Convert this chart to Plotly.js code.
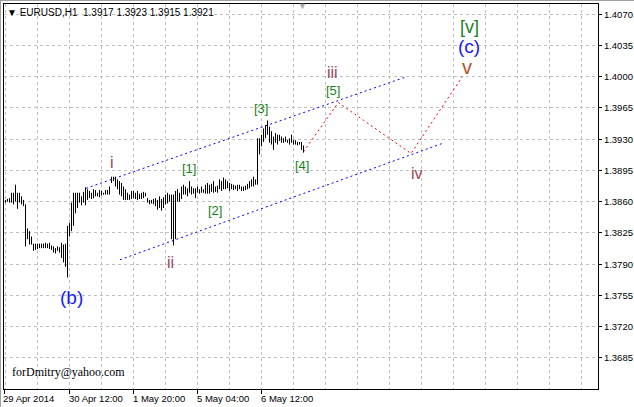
<!DOCTYPE html>
<html><head><meta charset="utf-8">
<script src="https://cdn.plot.ly/plotly-3.0.1.min.js"></script>
<style>
html,body{margin:0;padding:0;background:#fff;overflow:hidden}
#chart{width:634px;height:407px}
#frame{position:absolute;left:0;top:0;width:634px;height:407px;box-sizing:border-box;border-top:1px solid #a0a0a0;border-left:1px solid #a0a0a0;pointer-events:none}
</style>
</head><body><div id="chart"></div><div id="frame"></div>
<script>
// bar index: 0 = 30 Apr 2014 12:00 (H1 bars, weekend skipped)
const firstBar = -32;
const highs = [
1.3862,1.3863,1.3864,1.3870,1.3870,1.3879,1.3870,1.3870,1.3866,1.3862,1.3857,1.3830,1.3827,1.3821,1.3813,1.3813,
1.3813,1.3813,1.3813,1.3813,1.3814,1.3813,1.3814,1.3811,1.3810,1.3808,1.3810,1.3809,1.3814,1.3812,1.3813,1.3833,
1.3836,1.3859,1.3870,1.3870,1.3870,1.3870,1.3866,1.3871,1.3876,1.3874,1.3872,1.3870,1.3874,1.3873,1.3870,1.3873,
1.3872,1.3870,1.3873,1.3873,
1.3877,1.3888,1.3888,1.3888,1.3885,1.3883,1.3881,1.3877,1.3874,1.3870,1.3868,1.3872,1.3872,1.3870,1.3872,1.3869,
1.3870,1.3871,1.3870,1.3864,1.3862,1.3862,1.3863,1.3864,1.3862,1.3866,1.3863,1.3865,1.3868,1.3870,1.3868,1.3868,
1.3868,1.3872,1.3874,1.3870,1.3877,1.3879,1.3877,1.3875,1.3883,1.3877,1.3875,1.3875,1.3877,1.3874,1.3877,1.3874,
1.3879,1.3881,
1.3879,1.3880,1.3883,1.3877,1.3878,1.3885,1.3883,1.3887,1.3885,1.3883,1.3881,1.3880,1.3879,1.3878,1.3879,1.3879,
1.3877,1.3877,1.3878,1.3880,1.3883,1.3885,1.3888,1.3885,1.3931,1.3931,1.3935,1.3942,1.3946,1.3951,1.3944,1.3939,
1.3933,1.3937,1.3935,1.3935,1.3933,1.3931,1.3933,1.3929,1.3931,1.3935,1.3929,1.3929,1.3927,1.3927,1.3927,1.3923
];
const lows = [
1.3859,1.3860,1.3859,1.3859,1.3857,1.3860,1.3852,1.3859,1.3857,1.3855,1.3810,1.3818,1.3812,1.3812,1.3805,1.3806,
1.3807,1.3808,1.3808,1.3808,1.3808,1.3808,1.3807,1.3806,1.3803,1.3802,1.3805,1.3803,1.3797,1.3792,1.3787,1.3775,
1.3821,1.3827,1.3833,1.3847,1.3853,1.3859,1.3856,1.3859,1.3856,1.3862,1.3864,1.3863,1.3864,1.3866,1.3866,1.3865,
1.3867,1.3868,1.3868,1.3868,
1.3868,1.3881,1.3883,1.3877,1.3874,1.3868,1.3866,1.3862,1.3862,1.3862,1.3862,1.3863,1.3864,1.3863,1.3862,1.3863,
1.3863,1.3864,1.3866,1.3859,1.3857,1.3858,1.3857,1.3855,1.3851,1.3853,1.3850,1.3853,1.3857,1.3858,1.3860,1.3818,
1.3811,1.3818,1.3860,1.3860,1.3863,1.3868,1.3868,1.3866,1.3870,1.3868,1.3869,1.3864,1.3870,1.3869,1.3870,1.3870,
1.3869,1.3869,
1.3869,1.3871,1.3870,1.3871,1.3870,1.3874,1.3872,1.3874,1.3874,1.3875,1.3872,1.3874,1.3873,1.3874,1.3872,1.3874,
1.3872,1.3872,1.3873,1.3874,1.3875,1.3877,1.3877,1.3879,1.3879,1.3913,1.3922,1.3927,1.3931,1.3935,1.3926,1.3924,
1.3918,1.3926,1.3924,1.3928,1.3926,1.3926,1.3927,1.3926,1.3924,1.3926,1.3924,1.3924,1.3923,1.3924,1.3918,1.3915
];
const timeTickBars = [-32.75, 0, 32, 64, 96];
const timeTickLabels = ['29 Apr 2014', '30 Apr 12:00', '1 May 20:00', '5 May 04:00', '6 May 12:00'];
const priceTicks = [1.3685,1.3720,1.3755,1.3790,1.3825,1.3860,1.3895,1.3930,1.3965,1.4000,1.4035,1.4070];
const headerSymbol = 'EURUSD,H1';
const headerOHLC = [1.3917, 1.3923, 1.3915, 1.3921];

const upperChannelBar = [8.25, 168.6];
const upperChannelPrice = [1.3875, 1.4000];
const lowerChannelBar = [25.25, 186.1];
const lowerChannelPrice = [1.3795, 1.3925];
const wavePathBar = [117, 134.4, 170.75, 196.4];
const wavePathPrice = [1.3916, 1.3971, 1.3914, 1.4000];

const labelText  = ['i','ii','iii','iv','v','[v]','(c)','(b)','[1]','[2]','[3]','[4]','[5]'];
const labelBar   = [21.25, 50.25, 131.4, 173.6, 198.6, 199.9, 199.9, 0.75, 59.9, 72.75, 95.9, 116.1, 131.9];
const labelPrice = [1.39037,1.37917,1.40045,1.38918,1.40112,1.40560,1.40336,1.37527,1.38974,1.38496,1.39646,1.39011,1.39851];
const labelKind  = ['minor','minor','minor','minorB','minorV','major','blue','blue','sub','sub','sub','sub','sub'];

const kindStyle = {
  minor:  {size:16, color:'#9e4466'},
  minorB: {size:16, color:'#9a4a52'},
  minorV: {size:20, color:'#b8502a'},
  major:  {size:18, color:'#1a801a'},
  blue:   {size:19, color:'#1a1aff'},
  sub:    {size:13, color:'#1a801a'}
};

const bx = [], by = [];
highs.forEach((h, i) => { const k = firstBar + i; bx.push(k, k, null); by.push(lows[i], h, null); });

const traces = [
  {x: upperChannelBar, y: upperChannelPrice, mode:'lines', line:{color:'#0000ff', width:1, dash:'2px,3px'}, hoverinfo:'skip'},
  {x: lowerChannelBar, y: lowerChannelPrice, mode:'lines', line:{color:'#0000ff', width:1, dash:'2px,3px'}, hoverinfo:'skip'},
  {x: wavePathBar, y: wavePathPrice, mode:'lines', line:{color:'#ff0000', width:1, dash:'2px,3px'}, hoverinfo:'skip'},
  {x: bx, y: by, mode:'lines', line:{color:'#000', width:1}, connectgaps:false, hoverinfo:'skip'}
];

const ann = [];
labelText.forEach((t, i) => {
  const st = kindStyle[labelKind[i]];
  ann.push({x: labelBar[i], y: labelPrice[i], xref:'x', yref:'y', text: t, showarrow:false,
    xanchor:'center', yanchor:'middle', font:{family:'Liberation Sans, Arial, sans-serif', size: st.size, color: st.color}});
});
timeTickBars.forEach((k, i) => {
  ann.push({x: k, y: -0.0234, xref:'x', yref:'paper', text: timeTickLabels[i], showarrow:false,
    xanchor:'left', yanchor:'middle', xshift:-3, font:{family:'Liberation Sans, Arial, sans-serif', size:9.5, color:'#000'}});
});
ann.push({x: 0.0017, y: 0.978, xref:'paper', yref:'paper', xanchor:'left', yanchor:'middle', showarrow:false,
  text: '\u25BC ' + headerSymbol + '\u00a0\u00a0' + headerOHLC.map(v => v.toFixed(4)).join(' '),
  font:{family:'Liberation Sans, Arial, sans-serif', size:10, color:'#000'}});
ann.push({x: 0.5025, y: 0.994, xref:'paper', yref:'paper', xanchor:'center', yanchor:'middle', showarrow:false,
  text:'\u25BC', font:{family:'Liberation Sans, Arial, sans-serif', size:9, color:'#a8a8a8'}});
ann.push({x: 0.0101, y: 0.0442, xref:'paper', yref:'paper', xanchor:'left', yanchor:'middle', showarrow:false,
  text:'forDmitry@yahoo.com', font:{family:'Liberation Serif, Times New Roman, serif', size:12, color:'#000'}});

const layout = {
  width:634, height:407,
  margin:{l:4, r:36, t:4, b:18, pad:0},
  paper_bgcolor:'#fff', plot_bgcolor:'#fff',
  showlegend:false,
  xaxis:{range:[-32.75, 264.25], tickvals: timeTickBars, showticklabels:false,
    ticks:'outside', ticklen:4, tickcolor:'#000', tickwidth:1,
    showgrid:true, gridcolor:'#c0c0c0', griddash:'3px,3px', gridwidth:1,
    minor:{tick0:0, dtick:16, showgrid:true, gridcolor:'#c0c0c0', griddash:'3px,3px', gridwidth:1, ticks:''},
    showline:true, linecolor:'#000', linewidth:1, mirror:true, zeroline:false, fixedrange:true},
  yaxis:{range:[1.365022, 1.408142], side:'right', tickvals: priceTicks, tickformat:'.4f',
    ticks:'outside', ticklen:3, tickcolor:'#000', tickwidth:1,
    tickfont:{family:'Liberation Sans, Arial, sans-serif', size:9.5, color:'#000'},
    showgrid:true, gridcolor:'#c0c0c0', griddash:'3px,3px', gridwidth:1,
    showline:true, linecolor:'#000', linewidth:1, mirror:true, zeroline:false, fixedrange:true},
  annotations: ann
};

Plotly.newPlot('chart', traces, layout, {staticPlot:true, displayModeBar:false});
</script>
</body></html>
